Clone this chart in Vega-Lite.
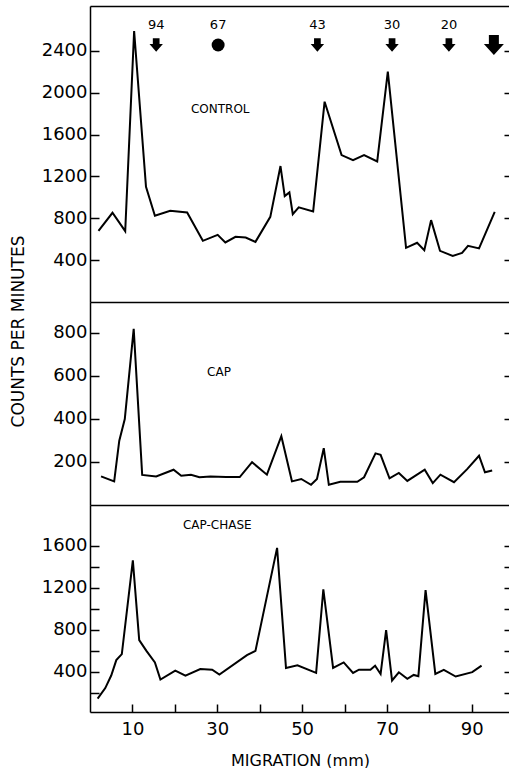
{
  "$schema": "https://vega.github.io/schema/vega-lite/v6.json",
  "padding": {"left": 8, "top": 6, "right": 1, "bottom": 0},
  "autosize": {"type": "pad"},
  "background": "white",
  "spacing": 0,
  "bounds": "flush",
  "config": {
    "view": {"stroke": null},
    "font": "DejaVu Sans",
    "axis": {
      "domainColor": "black", "domainWidth": 1.5,
      "tickColor": "black", "tickWidth": 1.5,
      "labelColor": "black", "titleColor": "black",
      "labelFont": "DejaVu Sans", "labelFontWeight": "normal", "labelFontSize": 18,
      "titleFont": "DejaVu Sans", "titleFontWeight": "normal", "titleFontSize": 16,
      "grid": false
    },
    "text": {"color": "black", "font": "DejaVu Sans"}
  },
  "datasets": {
    "control": [
      {"mm": 2.0, "cpm": 680}, {"mm": 5.3, "cpm": 853}, {"mm": 8.3, "cpm": 677}, {"mm": 10.4, "cpm": 2591},
      {"mm": 13.2, "cpm": 1101}, {"mm": 15.3, "cpm": 824}, {"mm": 18.9, "cpm": 872}, {"mm": 22.9, "cpm": 856},
      {"mm": 26.6, "cpm": 585}, {"mm": 30.1, "cpm": 642}, {"mm": 31.9, "cpm": 569}, {"mm": 34.3, "cpm": 623},
      {"mm": 36.7, "cpm": 617}, {"mm": 39.0, "cpm": 575}, {"mm": 42.5, "cpm": 814}, {"mm": 44.9, "cpm": 1300},
      {"mm": 45.9, "cpm": 1012}, {"mm": 47.0, "cpm": 1048}, {"mm": 47.8, "cpm": 840}, {"mm": 49.2, "cpm": 905},
      {"mm": 52.6, "cpm": 866}, {"mm": 55.3, "cpm": 1915}, {"mm": 59.3, "cpm": 1405}, {"mm": 62.0, "cpm": 1357},
      {"mm": 64.6, "cpm": 1405}, {"mm": 67.7, "cpm": 1344}, {"mm": 70.2, "cpm": 2202}, {"mm": 74.5, "cpm": 518},
      {"mm": 77.1, "cpm": 566}, {"mm": 78.8, "cpm": 496}, {"mm": 80.4, "cpm": 783}, {"mm": 82.5, "cpm": 489},
      {"mm": 85.5, "cpm": 441}, {"mm": 87.7, "cpm": 470}, {"mm": 89.1, "cpm": 537}, {"mm": 91.7, "cpm": 512},
      {"mm": 95.4, "cpm": 862}
    ],
    "cap": [
      {"mm": 2.6, "cpm": 133}, {"mm": 5.7, "cpm": 110}, {"mm": 6.9, "cpm": 299}, {"mm": 8.2, "cpm": 400},
      {"mm": 10.3, "cpm": 819}, {"mm": 12.3, "cpm": 140}, {"mm": 15.6, "cpm": 133}, {"mm": 19.7, "cpm": 164},
      {"mm": 21.5, "cpm": 136}, {"mm": 23.8, "cpm": 141}, {"mm": 25.8, "cpm": 129}, {"mm": 28.4, "cpm": 133},
      {"mm": 32.1, "cpm": 130}, {"mm": 35.3, "cpm": 130}, {"mm": 38.2, "cpm": 199}, {"mm": 41.7, "cpm": 141},
      {"mm": 45.1, "cpm": 320}, {"mm": 47.6, "cpm": 110}, {"mm": 49.8, "cpm": 121}, {"mm": 52.1, "cpm": 94},
      {"mm": 53.5, "cpm": 121}, {"mm": 55.1, "cpm": 264}, {"mm": 56.3, "cpm": 94}, {"mm": 59.0, "cpm": 108},
      {"mm": 63.0, "cpm": 108}, {"mm": 64.6, "cpm": 129}, {"mm": 67.3, "cpm": 240}, {"mm": 68.5, "cpm": 233},
      {"mm": 70.6, "cpm": 124}, {"mm": 72.8, "cpm": 149}, {"mm": 74.8, "cpm": 112}, {"mm": 78.9, "cpm": 164},
      {"mm": 80.8, "cpm": 102}, {"mm": 82.6, "cpm": 141}, {"mm": 85.8, "cpm": 106}, {"mm": 88.9, "cpm": 167},
      {"mm": 91.7, "cpm": 229}, {"mm": 93.1, "cpm": 152}, {"mm": 94.8, "cpm": 160}
    ],
    "capchase": [
      {"mm": 1.8, "cpm": 147}, {"mm": 3.6, "cpm": 247}, {"mm": 5.0, "cpm": 366}, {"mm": 6.2, "cpm": 513},
      {"mm": 7.5, "cpm": 570}, {"mm": 10.1, "cpm": 1460}, {"mm": 11.6, "cpm": 703}, {"mm": 13.3, "cpm": 600},
      {"mm": 15.3, "cpm": 491}, {"mm": 16.6, "cpm": 328}, {"mm": 20.1, "cpm": 413}, {"mm": 22.5, "cpm": 366},
      {"mm": 26.0, "cpm": 428}, {"mm": 28.8, "cpm": 422}, {"mm": 30.5, "cpm": 375}, {"mm": 37.0, "cpm": 560},
      {"mm": 39.0, "cpm": 600}, {"mm": 44.1, "cpm": 1578}, {"mm": 46.2, "cpm": 438}, {"mm": 48.9, "cpm": 463},
      {"mm": 53.3, "cpm": 391}, {"mm": 55.0, "cpm": 1185}, {"mm": 57.3, "cpm": 438}, {"mm": 59.8, "cpm": 491},
      {"mm": 62.0, "cpm": 391}, {"mm": 63.4, "cpm": 422}, {"mm": 66.1, "cpm": 422}, {"mm": 67.2, "cpm": 460},
      {"mm": 68.5, "cpm": 381}, {"mm": 69.8, "cpm": 797}, {"mm": 71.2, "cpm": 319}, {"mm": 72.8, "cpm": 397},
      {"mm": 74.8, "cpm": 335}, {"mm": 76.3, "cpm": 372}, {"mm": 77.4, "cpm": 360}, {"mm": 79.1, "cpm": 1178},
      {"mm": 81.4, "cpm": 381}, {"mm": 83.4, "cpm": 420}, {"mm": 86.2, "cpm": 357}, {"mm": 90.1, "cpm": 398},
      {"mm": 92.3, "cpm": 460}
    ],
    "markers": [
      {"mm": 15.6, "kind": "arrow", "label": "94"},
      {"mm": 30.2, "kind": "circle", "label": "67"},
      {"mm": 53.6, "kind": "arrow", "label": "43"},
      {"mm": 71.2, "kind": "arrow", "label": "30"},
      {"mm": 84.6, "kind": "arrow", "label": "20"},
      {"mm": 95.2, "kind": "big", "label": ""}
    ]
  },
  "vconcat": [
    {
      "width": 420, "height": 296,
      "resolve": {"axis": {"x": "independent", "y": "independent"}},
      "layer": [
        {
          "data": {"name": "control"},
          "mark": {"type": "line", "color": "black", "strokeWidth": 2},
          "encoding": {
            "x": {"field": "mm", "type": "quantitative", "scale": {"domain": [0, 99], "nice": false, "zero": false},
                  "axis": {"orient": "bottom", "ticks": false, "labels": false, "title": null}},
            "y": {"field": "cpm", "type": "quantitative", "scale": {"domain": [0, 2830], "nice": false},
                  "axis": {"orient": "left", "values": [400, 800, 1200, 1600, 2000, 2400], "tickSize": -9, "labelPadding": 12, "title": null, "format": "d"}}
          }
        },
        {
          "data": {"name": "markers"},
          "mark": {"type": "point", "filled": true, "color": "black", "opacity": 1},
          "encoding": {
            "x": {"field": "mm", "type": "quantitative", "scale": {"domain": [0, 99], "nice": false, "zero": false},
                  "axis": {"orient": "top", "ticks": false, "labels": false, "title": null}},
            "y": {"datum": 2457, "type": "quantitative", "scale": {"domain": [0, 2830], "nice": false},
                  "axis": {"orient": "right", "values": [400, 800, 1200, 1600, 2000, 2400], "tickSize": -6, "labels": false, "domain": false, "title": null}},
            "shape": {"field": "kind", "type": "nominal", "legend": null,
                      "scale": {"domain": ["arrow", "circle", "big"], "range": ["M-0.5,-1L0.5,-1L0.5,-0.15L1,-0.15L0,1L-1,-0.15L-0.5,-0.15Z", "circle", "M-0.5,-1L0.5,-1L0.5,-0.1L1,-0.1L0,1L-1,-0.1L-0.5,-0.1Z"]}},
            "size": {"field": "kind", "type": "nominal", "legend": null,
                     "scale": {"type": "ordinal", "domain": ["arrow", "circle", "big"], "range": [180, 169, 400]}}
          }
        },
        {
          "data": {"name": "markers"},
          "mark": {"type": "text", "fontSize": 13},
          "encoding": {
            "x": {"field": "mm", "type": "quantitative", "axis": null},
            "y": {"datum": 2650, "type": "quantitative", "axis": null},
            "text": {"field": "label"}
          }
        },
        {
          "data": {"values": [{}]},
          "mark": {"type": "text", "text": "CONTROL", "fontSize": 12},
          "encoding": {
            "x": {"datum": 30.7, "type": "quantitative", "axis": null},
            "y": {"datum": 1845, "type": "quantitative", "axis": null}
          }
        }
      ]
    },
    {
      "width": 420, "height": 203,
      "resolve": {"axis": {"x": "independent", "y": "independent"}},
      "layer": [
        {
          "data": {"name": "cap"},
          "mark": {"type": "line", "color": "black", "strokeWidth": 2},
          "encoding": {
            "x": {"field": "mm", "type": "quantitative", "scale": {"domain": [0, 99], "nice": false, "zero": false},
                  "axis": {"orient": "bottom", "ticks": false, "labels": false, "title": null}},
            "y": {"field": "cpm", "type": "quantitative", "scale": {"domain": [0, 944], "nice": false},
                  "axis": {"orient": "left", "values": [200, 400, 600, 800], "tickSize": -9, "labelPadding": 12, "format": "d",
                           "title": "COUNTS PER MINUTES", "titleFontSize": 17, "titleX": -63, "titleY": 29, "titleAlign": "center", "titleBaseline": "bottom", "titleAngle": -90}}
          }
        },
        {
          "data": {"values": [{}]},
          "mark": {"type": "text", "text": "CAP", "fontSize": 12},
          "encoding": {
            "x": {"datum": 30.4, "type": "quantitative", "axis": null},
            "y": {"datum": 619, "type": "quantitative", "scale": {"domain": [0, 944], "nice": false},
                  "axis": {"orient": "right", "values": [200, 400, 600, 800], "tickSize": -6, "labels": false, "domain": false, "title": null}}
          }
        }
      ]
    },
    {
      "width": 420, "height": 207,
      "resolve": {"axis": {"x": "independent", "y": "independent"}},
      "layer": [
        {
          "data": {"name": "capchase"},
          "mark": {"type": "line", "color": "black", "strokeWidth": 2},
          "encoding": {
            "x": {"field": "mm", "type": "quantitative", "scale": {"domain": [0, 99], "nice": false, "zero": false},
                  "axis": {"orient": "bottom", "values": [10, 20, 30, 40, 50, 60, 70, 80, 90], "tickSize": -8, "labelPadding": 16, "labelFontSize": 18,
                           "labelExpr": "datum.value % 20 === 10 ? datum.label : ''",
                           "title": "MIGRATION   (mm)", "titleY": 40, "titleBaseline": "top", "titleAlign": "center"}},
            "y": {"field": "cpm", "type": "quantitative", "scale": {"domain": [20, 1985], "nice": false, "zero": false},
                  "axis": {"orient": "left", "values": [200, 400, 600, 800, 1000, 1200, 1400, 1600], "tickSize": -9, "labelPadding": 12,
                           "labelExpr": "datum.value % 400 === 0 ? datum.label : ''", "format": "d", "title": null}}
          }
        },
        {
          "data": {"values": [{}]},
          "mark": {"type": "text", "text": "CAP-CHASE", "fontSize": 12},
          "encoding": {
            "x": {"datum": 30.0, "type": "quantitative", "axis": null},
            "y": {"datum": 1797, "type": "quantitative", "scale": {"domain": [20, 1985], "nice": false, "zero": false},
                  "axis": {"orient": "right", "values": [200, 400, 600, 800, 1000, 1200, 1400, 1600], "tickSize": -6, "labels": false, "domain": false, "title": null}}
          }
        }
      ]
    }
  ]
}
